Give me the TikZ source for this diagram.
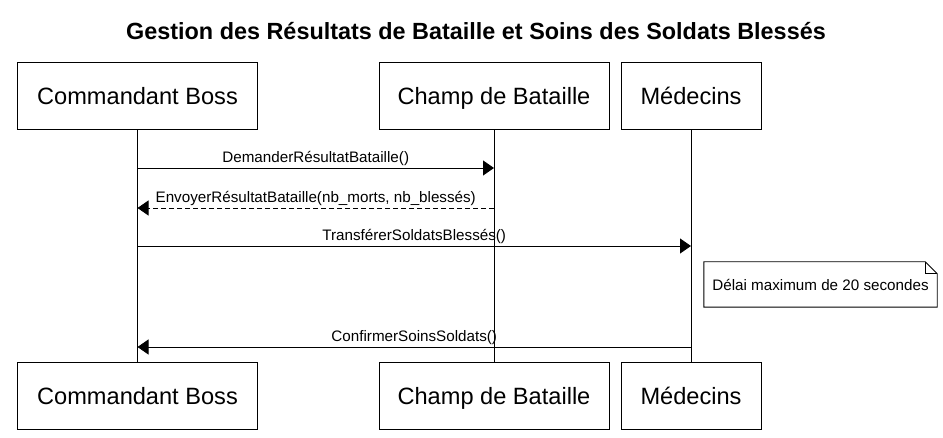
\documentclass[tikz,border=0pt]{standalone}
\usepackage{fontspec}
\setmainfont{Liberation Sans}
\usetikzlibrary{arrows.meta}

\tikzset{
  actor/.style={draw, line width=0.9pt, minimum height=67pt, inner sep=0pt, text height=19pt, text depth=0pt,
                font=\fontsize{23.6}{28}\selectfont},
  lifeline/.style={line width=0.9pt},
  msg/.style={line width=0.9pt, -{Triangle[length=11pt,width=15pt]}},
  reply/.style={msg, dash pattern=on 5pt off 3pt},
  msglabel/.style={midway, above, inner sep=2pt, font=\fontsize{15.2}{18}\selectfont},
  note/.style={minimum width=233pt, minimum height=45pt, inner sep=0pt, font=\fontsize{15.2}{18}\selectfont}
}

\begin{document}
\begin{tikzpicture}[x=1pt, y=-1pt, node distance=300pt]
                    \useasboundingbox (0,0) rectangle (943,438);
                    \node (title) at (476,31) {\fontsize{23.4}{27}\selectfont\bfseries Gestion des Résultats de Bataille et Soins des Soldats Blessés};

                    \node (cbTop)  [actor, minimum width=240pt] at (137.5,95.5) {Commandant Boss};
                    \node (cdbTop) [actor, minimum width=230pt] at (494,95.5)   {Champ de Bataille};
                    \node (medTop) [actor, minimum width=140pt] at (691,95.5)   {Médecins};
                    \node (cbBot)  [actor, minimum width=240pt, below of=cbTop]  {Commandant Boss};
                    \node (cdbBot) [actor, minimum width=230pt, below of=cdbTop] {Champ de Bataille};
                    \node (medBot) [actor, minimum width=140pt, below of=medTop] {Médecins};

                    \draw[lifeline] (cbTop)  -- (cbBot);
                    \draw[lifeline] (cdbTop) -- (cdbBot);
                    \draw[lifeline] (medTop) -- (medBot);

                    \coordinate (m1) at (0,168);
                    \coordinate (m2) at (0,208);
                    \coordinate (m3) at (0,246);
                    \coordinate (m4) at (0,347);

                    \draw[msg]   (cbTop |- m1)  -- (cdbTop |- m1) node[msglabel] {DemanderRésultatBataille()};
                    \draw[reply] (cdbTop |- m2) -- (cbTop |- m2)  node[msglabel] {EnvoyerRésultatBataille(nb\_morts, nb\_blessés)};
                    \draw[msg]   (cbTop |- m3)  -- (medTop |- m3) node[msglabel] {TransférerSoldatsBlessés()};
                    \draw[msg]   (medTop |- m4) -- (cbTop |- m4)  node[msglabel] {ConfirmerSoinsSoldats()};

                    \node (delai) [note] at (820.5,284.5) {Délai maximum de 20 secondes};
                    \draw[line width=0.9pt] (delai.south west) -- (delai.north west) -- ([xshift=-12pt]delai.north east)
                                -- ([yshift=-12pt]delai.north east) -- (delai.south east) -- cycle;
                    \draw[line width=0.9pt] ([xshift=-12pt]delai.north east) |- ([yshift=-12pt]delai.north east);
                \end{tikzpicture}
\end{document}
